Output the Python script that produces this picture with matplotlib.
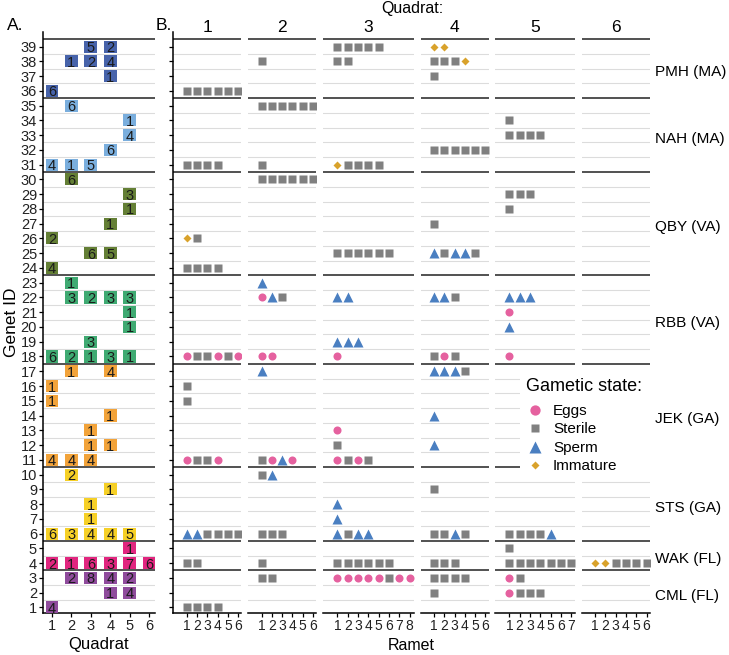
import numpy as np
import matplotlib.pyplot as plt
from matplotlib.lines import Line2D
from matplotlib.patches import Rectangle

plt.rcParams['font.family'] = ['Liberation Sans', 'DejaVu Sans']

# gametic state of every ramet, per genet, one list per quadrat
# E = eggs, S = sterile, M = sperm, I = immature
quadrat1 = [(36, "SSSSSS"), (31, "SSSS"), (26, "IS"), (24, "SSSS"),
            (18, "ESSESE"), (16, "S"), (15, "S"), (11, "ESSE"),
            (6, "MMSSSS"), (4, "SS"), (1, "SSSS")]
quadrat2 = [(38, "S"), (35, "SSSSSS"), (31, "S"), (30, "SSSSSS"), (23, "M"),
            (22, "EMS"), (18, "EE"), (17, "M"), (11, "SEME"), (10, "SM"),
            (6, "SSS"), (4, "S"), (3, "SS")]
quadrat3 = [(39, "SSSSS"), (38, "SS"), (31, "ISSSS"), (25, "SSSSSS"),
            (22, "MM"), (19, "MMM"), (18, "E"), (13, "E"), (12, "S"),
            (11, "ESES"), (8, "M"), (7, "M"), (6, "MSMM"), (4, "SSSSSS"),
            (3, "EEEEESEE")]
quadrat4 = [(39, "II"), (38, "SSSI"), (37, "S"), (32, "SSSSSS"), (27, "S"),
            (25, "MSMMS"), (22, "MMS"), (18, "SES"), (17, "MMMS"), (14, "M"),
            (12, "M"), (9, "S"), (6, "SSMS"), (4, "SSS"), (3, "SSSS"), (2, "S")]
quadrat5 = [(34, "S"), (33, "SSSS"), (29, "SSS"), (28, "S"), (22, "MMM"),
            (21, "E"), (20, "M"), (18, "E"), (6, "SSSSM"), (5, "S"),
            (4, "SSSSSSS"), (3, "ES"), (2, "ESSS")]
quadrat6 = [(4, "IISSSS")]
quadrats = [quadrat1, quadrat2, quadrat3, quadrat4, quadrat5, quadrat6]

site_names = ["PMH (MA)", "NAH (MA)", "QBY (VA)", "RBB (VA)",
              "JEK (GA)", "STS (GA)", "WAK (FL)", "CML (FL)"]
site_first = [36, 31, 24, 18, 11, 6, 4, 1]
site_last = [39, 35, 30, 23, 17, 10, 5, 3]
site_colors = ["#4763aa", "#7aaedd", "#647f35", "#3faa72",
               "#f2a33a", "#f6d027", "#e1267f", "#8f4b9c"]

state_codes = ["E", "S", "M", "I"]
state_labels = ["Eggs", "Sterile", "Sperm", "Immature"]
state_markers = ["o", "s", "^", "D"]
state_sizes = [5.8, 5.3, 7.0, 3.6]
legend_sizes = [7.4, 6.4, 8.6, 4.4]
state_colors = ["#e5619f", "#808080", "#4a7fc1", "#d9a22b"]

W, H = 729, 655
fig = plt.figure(figsize=(W / 100, H / 100), dpi=100)
y_bot, y_top = 613.3, 31.8  # pixel rows of panel bottom / top


def panel(x0, x1):
    return fig.add_axes([x0 / W, (H - y_bot) / H, (x1 - x0) / W, (y_bot - y_top) / H])


def genet_color(g):
    for first, last, col in zip(site_first, site_last, site_colors):
        if first <= g <= last:
            return col


separators = [last + 0.5 for last in site_last]
gridrows = [r + 0.5 for r in range(1, 39) if r + 0.5 not in separators]


def rows(ax):
    ax.set_ylim(0.6, 40.0)
    for r in gridrows:
        ax.axhline(r, color="#dcdcdc", lw=0.8, zorder=0)
    for r in separators:
        ax.axhline(r, color="#222222", lw=1.1, zorder=1)
    for s in ["top", "right"]:
        ax.spines[s].set_visible(False)
    ax.spines["bottom"].set_linewidth(1.1)
    ax.spines["left"].set_linewidth(1.1)
    ax.set_yticks(range(1, 40))
    ax.tick_params(length=2.8, width=0.9, pad=1.5, labelsize=10.5, labelcolor="#222222")


# A. number of ramets per genet and quadrat
axA = panel(43, 155)
rows(axA)
axA.set_xlim(0.54, 6.3)
axA.set_xticks(range(1, 7))
for q, data in enumerate(quadrats, start=1):
    for genet, states in data:
        axA.bar(q, 0.82, bottom=genet - 0.41, width=0.66, color=genet_color(genet), zorder=3)
        axA.text(q, genet, str(len(states)), ha="center", va="center_baseline",
                 fontsize=10.5, color="#1a1a1a", zorder=4)
axA.set_xlabel("Quadrat", fontsize=12, labelpad=3)
axA.set_ylabel("Genet ID", fontsize=12.5, labelpad=1)

# B. gametic state of each ramet
unit = 10.3
x = 173.3
axesB = []
for q, data in enumerate(quadrats, start=1):
    n = max(len(s) for _, s in data)
    w = 1.1 * n * unit
    ax = panel(x, x + w)
    x += w + 6.9
    rows(ax)
    ax.set_xlim(-0.05 * n, 1.05 * n)
    ax.set_xticks(range(1, n + 1))
    ax.tick_params(axis="x", labelsize=10, pad=1.5)
    if q > 1:
        ax.spines["left"].set_visible(False)
        ax.tick_params(axis="y", left=False)
    ax.set_yticklabels([])
    for code, mk, ms, col in zip(state_codes, state_markers, state_sizes, state_colors):
        xs = [i + 1 for g, s in data for i, c in enumerate(s) if c == code]
        ys = [g for g, s in data for c in s if c == code]
        if xs:
            ax.plot(xs, ys, ls="none", marker=mk, ms=ms, color=col, mec="none", zorder=3)
    ax.text(0.5, 1 + (y_top - 27) / (y_bot - y_top), str(q), transform=ax.transAxes,
            ha="center", va="center", fontsize=12.5)
    axesB.append(ax)

for name, first, last in zip(site_names, site_first, site_last):
    axesB[-1].annotate(name, xy=(1, (first + last) / 2), xycoords=("axes fraction", "data"),
                       xytext=(4, -1.5), textcoords="offset points", ha="left",
                       va="center_baseline", fontsize=11, annotation_clip=False)

# legend: white box, title and keys
fig.add_artist(Rectangle((520 / W, 1 - 478 / H), 130 / W, 108 / H, transform=fig.transFigure,
                         facecolor="white", edgecolor="none", zorder=2))
fig.text(526 / W, 1 - 386 / H, "Gametic state:", fontsize=13, va="center", ha="left", zorder=3)
handles = [Line2D([], [], ls="none", marker=mk, ms=ms, color=col, mec="none")
           for mk, ms, col in zip(state_markers, legend_sizes, state_colors)]
fig.legend(handles, state_labels, loc="upper left", bbox_to_anchor=(527.4 / W, 1 - 404 / H),
           frameon=False, fontsize=11, borderpad=0, handlelength=1.0,
           handletextpad=0.67, labelspacing=0.29, borderaxespad=0)

fig.text(7 / W, 1 - 26 / H, "A.", fontsize=12.5, va="center", ha="left")
fig.text(156 / W, 1 - 26 / H, "B.", fontsize=12.5, va="center", ha="left")
fig.text(412 / W, 1 - 9 / H, "Quadrat:", fontsize=11.5, va="center", ha="center")
fig.text(411.5 / W, 1 - 646 / H, "Ramet", fontsize=11.5, va="center", ha="center")

fig.savefig("out.png", dpi=100)
